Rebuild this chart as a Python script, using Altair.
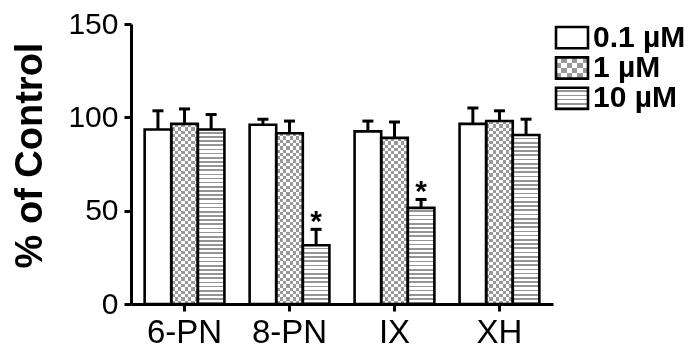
import altair as alt
import pandas as pd

# ---------------- data ----------------
compounds = ["6-PN", "8-PN", "IX", "XH"]
doses = ["0.1 µM", "1 µM", "10 µM"]
mean_01 = [93.5, 96.0, 92.5, 96.5]
mean_1 = [96.5, 91.5, 89.0, 98.0]
mean_10 = [93.5, 31.5, 51.5, 90.5]
err_01 = [10.0, 3.0, 5.5, 8.5]
err_1 = [8.0, 6.5, 8.5, 5.5]
err_10 = [8.0, 8.5, 4.5, 8.5]
star_10 = [False, True, True, False]
y_ticks = [0, 50, 100, 150]

# ---------------- style ----------------
FONT = "Liberation Sans"
PLOT_W, PLOT_H, Y_MAX = 422, 280, 150
PX_PER_UNIT = PLOT_H / Y_MAX
PAD_INNER, PAD_OUTER = 0.24, 0.13
STEP = PLOT_W / (len(compounds) - PAD_INNER + 2 * PAD_OUTER)
BAR_W = STEP * (1 - PAD_INNER) / len(doses)
CHECK_GRAY_DIFF = "#666666"   # final checker gray = white - this = #999999
STRIPE_GRAY = "#959595"

rows = []
for dose, means, errs in zip(doses, [mean_01, mean_1, mean_10], [err_01, err_1, err_10]):
    for i, c in enumerate(compounds):
        rows.append({
            "compound": c,
            "dose": dose,
            "mean": means[i],
            "upper": means[i] + errs[i],
            "star": "*" if (dose == "10 µM" and star_10[i]) else "",
        })
df = pd.DataFrame(rows)


def stripe_gradient(length_px, period_px, c_a, c_b, frac_a, along_x=False):
    n = max(1, round(length_px / period_px))
    stops = []
    for i in range(n):
        a0 = round(i / n, 5)
        a1 = round((i + frac_a) / n, 5)
        b1 = round((i + 1) / n, 5)
        stops += [
            {"offset": a0, "color": c_a},
            {"offset": a1, "color": c_a},
            {"offset": a1, "color": c_b},
            {"offset": b1, "color": c_b},
        ]
    x2, y2 = (1, 0) if along_x else (0, 1)
    return {"gradient": "linear", "x1": 0, "y1": 0, "x2": x2, "y2": y2, "stops": stops}


# ---------------- encodings ----------------
x_enc = alt.X(
    "compound:N",
    scale=alt.Scale(domain=compounds, paddingInner=PAD_INNER, paddingOuter=PAD_OUTER),
    axis=alt.Axis(
        title=None, labelAngle=0, labelFontSize=33, labelFont=FONT, labelColor="black",
        labelPadding=5, tickSize=7, tickWidth=3, tickColor="black",
        domainWidth=3, domainColor="black",
    ),
)
xo_enc = alt.XOffset("dose:N", scale=alt.Scale(domain=doses, paddingInner=0, paddingOuter=0))
y_scale = alt.Scale(domain=[0, Y_MAX], nice=False)
y_axis = alt.Axis(
    values=y_ticks, title="% of Control", titleFont=FONT, titleFontSize=38,
    titleFontWeight="bold", titleColor="black", titlePadding=18, titleY=131,
    labelFont=FONT, labelFontSize=30, labelColor="black", labelPadding=6,
    tickSize=7, tickWidth=3, tickColor="black", domainWidth=3, domainColor="black",
    grid=False,
)


def Y(field):
    return alt.Y(field, scale=y_scale, axis=y_axis)


base = alt.Chart(df).encode(x=x_enc, xOffset=xo_enc, y=Y("mean:Q"))

layers = []
# white bars
layers.append(base.transform_filter(alt.datum.dose == doses[0]).mark_bar(fill="white"))
# checker bars: horizontal stripes, vertical stripes (difference), white (difference)
for c, m in zip(compounds, mean_1):
    grad = stripe_gradient(m * PX_PER_UNIT, 6.6, "black", CHECK_GRAY_DIFF, 0.5)
    layers.append(
        base.transform_filter((alt.datum.dose == doses[1]) & (alt.datum.compound == c))
        .mark_bar(fill=grad)
    )
layers.append(
    base.transform_filter(alt.datum.dose == doses[1]).mark_bar(
        fill=stripe_gradient(BAR_W, 6.6, "black", CHECK_GRAY_DIFF, 0.5, along_x=True),
        blend="difference",
    )
)
layers.append(
    base.transform_filter(alt.datum.dose == doses[1]).mark_bar(fill="white", blend="difference")
)
# horizontally striped bars
for c, m in zip(compounds, mean_10):
    grad = stripe_gradient(m * PX_PER_UNIT, 4.2, "white", STRIPE_GRAY, 0.6)
    layers.append(
        base.transform_filter((alt.datum.dose == doses[2]) & (alt.datum.compound == c))
        .mark_bar(fill=grad)
    )
# outlines
layers.append(base.mark_bar(fillOpacity=0, stroke="black", strokeWidth=2.6))
# error bars
layers.append(
    alt.Chart(df).mark_rule(color="black", strokeWidth=3).encode(
        x=x_enc, xOffset=xo_enc, y=Y("mean:Q"), y2="upper:Q"
    )
)
layers.append(
    alt.Chart(df).mark_tick(color="black", thickness=3, size=11, opacity=1).encode(
        x=x_enc, xOffset=xo_enc, y=Y("upper:Q")
    )
)
# significance asterisks
layers.append(
    alt.Chart(df).transform_filter(alt.datum.star != "").mark_text(
        font=FONT, fontSize=30, fontWeight="bold", color="black", baseline="alphabetic", dy=2
    ).encode(x=x_enc, xOffset=xo_enc, y=Y("upper:Q"), text="star:N")
)

main = alt.layer(*layers).properties(width=PLOT_W, height=PLOT_H)

# ---------------- legend panel ----------------
leg_df = pd.DataFrame({"dose": doses})
LEG_W, LEG_H = 32, 88
SW_H = 21
leg_y = alt.Y("dose:N", scale=alt.Scale(domain=doses, paddingInner=0.3, paddingOuter=0.1), axis=None)
leg_base = alt.Chart(leg_df).encode(y=leg_y, x=alt.value(0), x2=alt.value("width"))
leg_layers = [
    leg_base.transform_filter(alt.datum.dose == doses[0]).mark_rect(fill="white"),
    leg_base.transform_filter(alt.datum.dose == doses[1]).mark_rect(
        fill=stripe_gradient(SW_H, 10.5, "black", CHECK_GRAY_DIFF, 0.5)
    ),
    leg_base.transform_filter(alt.datum.dose == doses[1]).mark_rect(
        fill=stripe_gradient(LEG_W, 10.6, "black", CHECK_GRAY_DIFF, 0.5, along_x=True),
        blend="difference",
    ),
    leg_base.transform_filter(alt.datum.dose == doses[1]).mark_rect(fill="white", blend="difference"),
    leg_base.transform_filter(alt.datum.dose == doses[2]).mark_rect(
        fill=stripe_gradient(SW_H, 4.2, "white", STRIPE_GRAY, 0.6)
    ),
    leg_base.mark_rect(fillOpacity=0, stroke="black", strokeWidth=2.6),
    alt.Chart(leg_df).mark_text(
        align="left", baseline="middle", font=FONT, fontSize=30, fontWeight="bold",
        color="black", dx=5,
    ).encode(y=leg_y, x=alt.value("width"), text="dose:N"),
]
legend = alt.layer(*leg_layers).properties(width=LEG_W, height=LEG_H)

chart = (
    alt.hconcat(main, legend, spacing=0)
    .properties(padding={"left": 3, "top": 0, "right": 0, "bottom": 0}, background="white")
    .configure_view(stroke="transparent")
)

chart.save("out.html", embed_options={"renderer": "svg", "actions": False})
